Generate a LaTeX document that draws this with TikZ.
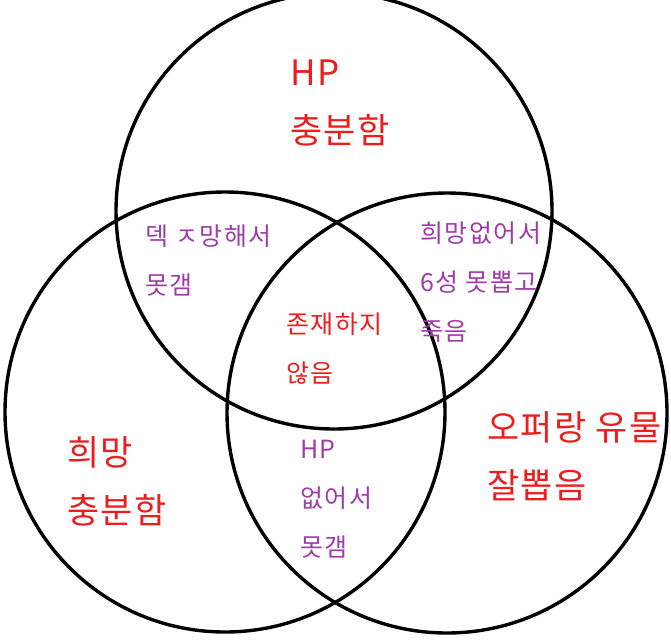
\documentclass[tikz,border=0pt]{standalone}
\usepackage{fontspec}
\setmainfont{Noto Sans CJK KR}
\definecolor{myred}{RGB}{235,30,30}
\definecolor{mypurple}{RGB}{160,60,170}
\tikzset{
 circ/.style={draw=black,line width=3.4pt},
 big/.style={text=myred,font=\fontsize{35}{58}\selectfont\addfontfeature{LetterSpace=4},align=left,anchor=north west,inner sep=0pt},
 small/.style={text=mypurple,font=\fontsize{25}{49}\selectfont\addfontfeature{LetterSpace=6},align=left,anchor=north west,inner sep=0pt},
 mid/.style={text=myred,font=\fontsize{25}{49}\selectfont\addfontfeature{LetterSpace=6},align=left,anchor=north west,inner sep=0pt}
}
\begin{document}
\begin{tikzpicture}[x=1pt,y=-1pt]
\useasboundingbox (0,0) rectangle (671,640);
\fill[white] (0,0) rectangle (671,640);
\draw[circ] (334,211) circle (218);
\draw[circ] (225,412) circle (220);
\draw[circ] (447,413) circle (220);
\node[big] (hp) at (290,60) {HP\\충분함};
\node[big] (hm) at (67,436) {희망\\충분함};
\node[big] (op) at (487,411) {오퍼랑 유물\\잘뽑음};
\node[mid] (ne) at (286,313) {존재하지\\않음};
\node[small] (dk) at (145,225) {덱 ㅈ망해서\\못갬};
\node[small] (hd) at (420,222) {희망없어서\\6성 못뽑고\\죽음};
\node[small] (hpn) at (300,440) {HP\\없어서\\못갬};
\end{tikzpicture}
\end{document}
